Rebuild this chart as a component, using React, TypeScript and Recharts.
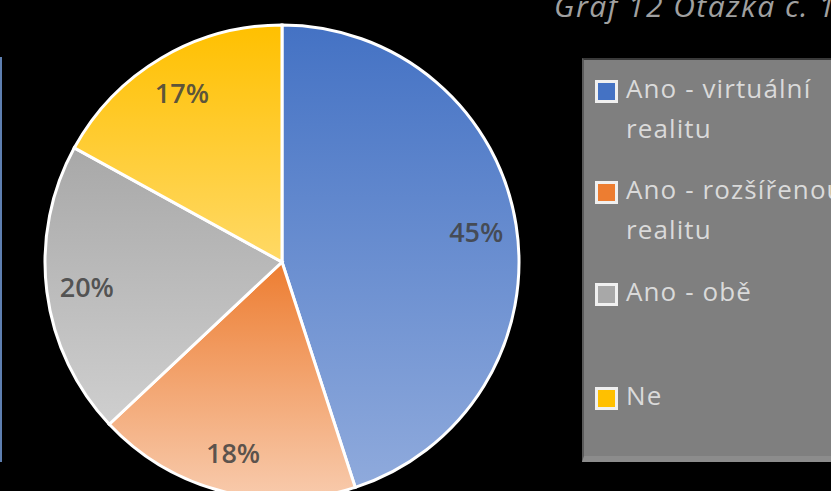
import React from 'react';
import { PieChart, Pie, Cell, Legend } from 'recharts';

const categories = ['Ano - virtuální realitu', 'Ano - rozšířenou realitu', 'Ano - obě', 'Ne'];
const values = [45, 18, 20, 17];
const title = 'Graf 12 Otázka č. 1';
const colorsTop = ['#4472C4', '#ED7D31', '#A8A8A8', '#FFC000'];
const colorsBottom = ['#8FAADC', '#F8CBAD', '#CFCFCF', '#FFD966'];

const data = categories.map((name, i) => ({ name, value: values[i] }));

const RADIAN = Math.PI / 180;

const renderLabel = (props: any) => {
  const { cx, cy, midAngle, outerRadius, percent } = props;
  const r = outerRadius * 0.83;
  const x = cx + r * Math.cos(-midAngle * RADIAN);
  const y = cy + r * Math.sin(-midAngle * RADIAN);
  return (
    <text
      x={x}
      y={y}
      fill="#404040"
      fillOpacity={0.85}
      textAnchor="middle"
      dominantBaseline="central"
      fontFamily="'Open Sans', sans-serif"
      fontSize={27}
      fontWeight={600}
    >
      {`${Math.round(percent * 100)}%`}
    </text>
  );
};

const LegendBox = (props: any) => {
  const { payload } = props;
  const rowTops = [77, 178, 280, 384];
  return (
    <div
      style={{
        position: 'absolute',
        left: 582,
        top: 58,
        width: 300,
        height: 404,
        background: '#7F7F7F',
        borderTop: '2px solid #3a3a3a',
        borderLeft: '2px solid #5a5a5a',
        borderBottom: '6px solid #8c8c8c',
        boxSizing: 'border-box',
      }}
    >
      {(payload || []).map((entry: any, i: number) => (
        <div
          key={entry.value}
          style={{
            position: 'absolute',
            left: 11,
            top: rowTops[i] - 60,
            display: 'flex',
            alignItems: 'flex-start',
          }}
        >
          <div
            style={{
              width: 17,
              height: 17,
              marginTop: 3,
              border: '3px solid #f0f0f0',
              background: entry.color,
              flexShrink: 0,
            }}
          />
          <div
            style={{
              marginLeft: 8,
              width: 240,
              color: '#DADADA',
              fontFamily: "'Open Sans', sans-serif",
              fontSize: 26,
              letterSpacing: 1.1,
              lineHeight: '40px',
              marginTop: -9,
              whiteSpace: 'normal',
            }}
          >
            {entry.value}
          </div>
        </div>
      ))}
    </div>
  );
};

export default function App() {
  return (
    <div
      style={{
        position: 'fixed',
        left: 0,
        top: 0,
        width: 831,
        height: 491,
        background: '#000000',
        overflow: 'hidden',
      }}
    >
      <div
        style={{
          position: 'absolute',
          left: 0,
          top: 57,
          width: 2,
          height: 405,
          background: '#5E7FB0',
        }}
      />
      <div
        style={{
          position: 'absolute',
          left: 554,
          top: -15,
          color: '#A0A0A0',
          fontFamily: "'Open Sans', sans-serif",
          fontStyle: 'italic',
          fontSize: 30,
          letterSpacing: 1.5,
          whiteSpace: 'nowrap',
        }}
      >
        {title}
      </div>
      <PieChart
        width={831}
        height={491}
        margin={{ top: 0, right: 0, bottom: 0, left: 0 }}
        style={{ position: 'absolute', left: 0, top: 0 }}
      >
        <defs>
          {colorsTop.map((c, i) => (
            <linearGradient key={i} id={`grad${i}`} x1="0" y1="0" x2="0" y2="1">
              <stop offset="0%" stopColor={c} />
              <stop offset="100%" stopColor={colorsBottom[i]} />
            </linearGradient>
          ))}
        </defs>
        <Pie
          data={data}
          dataKey="value"
          nameKey="name"
          cx={282}
          cy={262}
          outerRadius={237}
          startAngle={90}
          endAngle={-270}
          stroke="#FFFFFF"
          strokeWidth={3}
          label={renderLabel}
          labelLine={false}
          isAnimationActive={false}
        >
          {data.map((d, i) => (
            <Cell key={d.name} fill={`url(#grad${i})`} />
          ))}
        </Pie>
        <Legend
          content={() => (
            <LegendBox
              payload={data.map((d, i) => ({ value: d.name, color: colorsTop[i] }))}
            />
          )}
          wrapperStyle={{ position: 'absolute', left: 0, top: 0, width: 0, height: 0 }}
        />
      </PieChart>
    </div>
  );
}
